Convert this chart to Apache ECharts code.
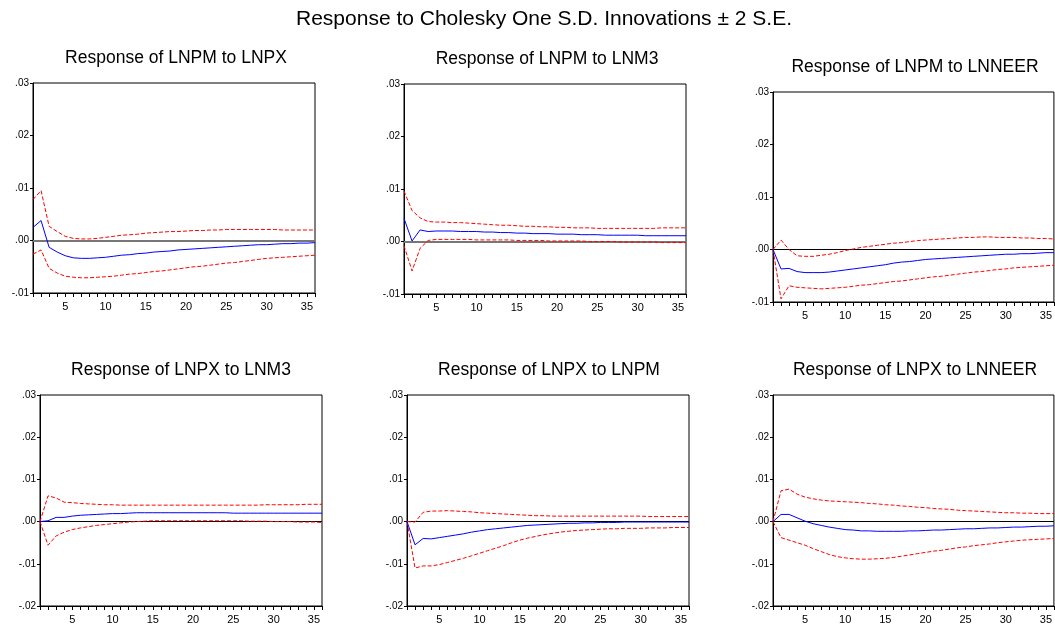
<!DOCTYPE html>
<html>
<head>
<meta charset="utf-8">
<script src="https://cdn.jsdelivr.net/npm/echarts@6/dist/echarts.min.js"></script>
<style>
html,body{margin:0;padding:0;background:#fff;}
#chart{width:1055px;height:625px;}
</style>
</head>
<body>
<div id="chart"></div>
<script>
const mainTitle = 'Response to Cholesky One S.D. Innovations \u00b1 2 S.E.';
const periods = [1,2,3,4,5,6,7,8,9,10,11,12,13,14,15,16,17,18,19,20,21,22,23,24,25,26,27,28,29,30,31,32,33,34,35,36];
const panelTitles = ['Response of LNPM to LNPX','Response of LNPM to LNM3','Response of LNPM to LNNEER','Response of LNPX to LNM3','Response of LNPX to LNPM','Response of LNPX to LNNEER'];
const yTopRow = [-0.01, 0.03];
const yBottomRow = [-0.02, 0.03];

// Panel 1: LNPM to LNPX
const p1Resp = [0.0025,0.0038,-0.0013,-0.0022,-0.0029,-0.0033,-0.0034,-0.0034,-0.0033,-0.0032,-0.0030,-0.0028,-0.0027,-0.0025,-0.0024,-0.0022,-0.0021,-0.0020,-0.0018,-0.0017,-0.0016,-0.0015,-0.0014,-0.0013,-0.0012,-0.0011,-0.0010,-0.0009,-0.0008,-0.0008,-0.0007,-0.0006,-0.0006,-0.0005,-0.0005,-0.0004];
const p1Up = [0.0078,0.0095,0.0027,0.0017,0.0008,0.0004,0.0003,0.0003,0.0004,0.0006,0.0008,0.0010,0.0011,0.0012,0.0014,0.0015,0.0016,0.0017,0.0017,0.0018,0.0019,0.0019,0.0020,0.0020,0.0021,0.0021,0.0021,0.0021,0.0021,0.0021,0.0021,0.0020,0.0020,0.0020,0.0020,0.0020];
const p1Lo = [-0.0026,-0.0018,-0.0053,-0.0062,-0.0068,-0.0070,-0.0071,-0.0071,-0.0070,-0.0069,-0.0068,-0.0066,-0.0064,-0.0063,-0.0061,-0.0059,-0.0058,-0.0056,-0.0054,-0.0052,-0.0050,-0.0049,-0.0047,-0.0045,-0.0043,-0.0042,-0.0040,-0.0038,-0.0036,-0.0034,-0.0033,-0.0032,-0.0031,-0.0030,-0.0029,-0.0028];

// Panel 2: LNPM to LNM3
const p2Resp = [0.0044,0.0001,0.0022,0.0019,0.0020,0.0020,0.0020,0.0019,0.0019,0.0019,0.0018,0.0018,0.0017,0.0017,0.0016,0.0016,0.0015,0.0015,0.0015,0.0014,0.0014,0.0014,0.0013,0.0013,0.0013,0.0012,0.0012,0.0012,0.0012,0.0012,0.0011,0.0011,0.0011,0.0011,0.0011,0.0011];
const p2Up = [0.0096,0.0059,0.0045,0.0038,0.0037,0.0037,0.0036,0.0036,0.0035,0.0034,0.0033,0.0032,0.0031,0.0031,0.0030,0.0029,0.0029,0.0028,0.0028,0.0027,0.0027,0.0026,0.0026,0.0026,0.0025,0.0025,0.0025,0.0025,0.0025,0.0025,0.0025,0.0025,0.0026,0.0026,0.0026,0.0026];
const p2Lo = [-0.0008,-0.0056,-0.0013,0.0002,0.0004,0.0004,0.0004,0.0004,0.0004,0.0003,0.0003,0.0003,0.0003,0.0003,0.0002,0.0002,0.0002,0.0002,0.0001,0.0001,0.0001,0.0001,0.0001,0.0000,0.0000,0.0000,0.0000,-0.0001,-0.0001,-0.0001,-0.0001,-0.0001,-0.0002,-0.0002,-0.0002,-0.0002];

// Panel 3: LNPM to LNNEER
const p3Resp = [0,-0.0037,-0.0036,-0.0042,-0.0044,-0.0044,-0.0044,-0.0043,-0.0041,-0.0039,-0.0037,-0.0035,-0.0033,-0.0031,-0.0029,-0.0026,-0.0024,-0.0023,-0.0021,-0.0019,-0.0018,-0.0017,-0.0016,-0.0015,-0.0014,-0.0013,-0.0012,-0.0011,-0.0010,-0.0009,-0.0009,-0.0008,-0.0008,-0.0007,-0.0006,-0.0006];
const p3Up = [0,0.0018,0.0000,-0.0012,-0.0013,-0.0013,-0.0011,-0.0009,-0.0006,-0.0002,0.0001,0.0004,0.0006,0.0008,0.0010,0.0012,0.0013,0.0015,0.0017,0.0018,0.0019,0.0020,0.0021,0.0022,0.0023,0.0023,0.0024,0.0024,0.0023,0.0023,0.0023,0.0022,0.0022,0.0021,0.0021,0.0020];
const p3Lo = [0,-0.0094,-0.0069,-0.0072,-0.0073,-0.0074,-0.0075,-0.0074,-0.0073,-0.0072,-0.0070,-0.0068,-0.0067,-0.0065,-0.0063,-0.0061,-0.0060,-0.0058,-0.0056,-0.0054,-0.0052,-0.0051,-0.0049,-0.0047,-0.0045,-0.0043,-0.0042,-0.0040,-0.0038,-0.0037,-0.0035,-0.0034,-0.0033,-0.0032,-0.0031,-0.0030];

// Panel 4: LNPX to LNM3
const p4Resp = [0,0.0002,0.0010,0.0010,0.0013,0.0015,0.0016,0.0017,0.0018,0.0019,0.0019,0.0020,0.0021,0.0021,0.0021,0.0021,0.0021,0.0021,0.0021,0.0021,0.0021,0.0021,0.0021,0.0021,0.0020,0.0020,0.0020,0.0020,0.0020,0.0020,0.0020,0.0020,0.0020,0.0020,0.0020,0.0020];
const p4Up = [0,0.0061,0.0056,0.0046,0.0045,0.0043,0.0042,0.0041,0.0040,0.0040,0.0039,0.0039,0.0039,0.0039,0.0039,0.0039,0.0039,0.0039,0.0039,0.0039,0.0039,0.0039,0.0039,0.0039,0.0039,0.0039,0.0039,0.0039,0.0040,0.0040,0.0040,0.0040,0.0040,0.0041,0.0041,0.0041];
const p4Lo = [0,-0.0056,-0.0034,-0.0025,-0.0019,-0.0015,-0.0012,-0.0009,-0.0007,-0.0005,-0.0003,-0.0001,0.0000,0.0001,0.0002,0.0002,0.0002,0.0002,0.0002,0.0002,0.0002,0.0002,0.0002,0.0002,0.0002,0.0002,0.0001,0.0001,0.0001,0.0000,0.0000,0.0000,-0.0001,-0.0001,-0.0001,-0.0002];

// Panel 5: LNPX to LNPM
const p5Resp = [0,-0.0055,-0.0040,-0.0041,-0.0038,-0.0035,-0.0032,-0.0029,-0.0025,-0.0022,-0.0019,-0.0017,-0.0015,-0.0013,-0.0011,-0.0009,-0.0008,-0.0007,-0.0006,-0.0005,-0.0004,-0.0004,-0.0003,-0.0003,-0.0002,-0.0002,-0.0002,-0.0001,-0.0001,-0.0001,-0.0001,-0.0001,-0.0001,-0.0001,-0.0001,-0.0001];
const p5Up = [0,-0.0001,0.0022,0.0025,0.0025,0.0026,0.0025,0.0024,0.0023,0.0021,0.0020,0.0019,0.0018,0.0017,0.0016,0.0015,0.0014,0.0014,0.0013,0.0013,0.0013,0.0013,0.0013,0.0013,0.0013,0.0013,0.0013,0.0013,0.0013,0.0013,0.0012,0.0012,0.0012,0.0012,0.0012,0.0012];
const p5Lo = [0,-0.0110,-0.0105,-0.0105,-0.0102,-0.0097,-0.0092,-0.0087,-0.0081,-0.0075,-0.0069,-0.0063,-0.0057,-0.0050,-0.0044,-0.0039,-0.0035,-0.0031,-0.0028,-0.0025,-0.0023,-0.0021,-0.0020,-0.0019,-0.0018,-0.0017,-0.0017,-0.0016,-0.0016,-0.0016,-0.0015,-0.0015,-0.0015,-0.0014,-0.0014,-0.0014];

// Panel 6: LNPX to LNNEER
const p6Resp = [0,0.0017,0.0017,0.0009,0.0001,-0.0005,-0.0009,-0.0013,-0.0016,-0.0019,-0.0020,-0.0022,-0.0022,-0.0023,-0.0023,-0.0023,-0.0023,-0.0022,-0.0022,-0.0021,-0.0020,-0.0020,-0.0019,-0.0018,-0.0017,-0.0017,-0.0016,-0.0015,-0.0015,-0.0014,-0.0013,-0.0013,-0.0012,-0.0011,-0.0011,-0.0010];
const p6Up = [0,0.0073,0.0077,0.0065,0.0058,0.0054,0.0051,0.0049,0.0048,0.0047,0.0046,0.0045,0.0043,0.0042,0.0040,0.0039,0.0037,0.0036,0.0034,0.0033,0.0031,0.0030,0.0029,0.0027,0.0026,0.0025,0.0024,0.0023,0.0022,0.0021,0.0021,0.0020,0.0020,0.0019,0.0019,0.0019];
const p6Lo = [0,-0.0038,-0.0044,-0.0050,-0.0056,-0.0064,-0.0071,-0.0078,-0.0083,-0.0086,-0.0088,-0.0089,-0.0089,-0.0088,-0.0087,-0.0085,-0.0082,-0.0079,-0.0076,-0.0073,-0.0070,-0.0068,-0.0065,-0.0062,-0.0060,-0.0057,-0.0055,-0.0053,-0.0050,-0.0048,-0.0046,-0.0044,-0.0043,-0.0042,-0.0041,-0.0040];

const panels = [
  {resp:p1Resp, up:p1Up, lo:p1Lo, y:yTopRow, zero:'#777', zeroW:2},
  {resp:p2Resp, up:p2Up, lo:p2Lo, y:yTopRow, zero:'#777', zeroW:2},
  {resp:p3Resp, up:p3Up, lo:p3Lo, y:yTopRow, zero:'#000', zeroW:1},
  {resp:p4Resp, up:p4Up, lo:p4Lo, y:yBottomRow, zero:'#000', zeroW:1},
  {resp:p5Resp, up:p5Up, lo:p5Lo, y:yBottomRow, zero:'#000', zeroW:1},
  {resp:p6Resp, up:p6Up, lo:p6Lo, y:yBottomRow, zero:'#000', zeroW:1}
];

// layout (pixels)
const gridBoxes = [
  {left:33, top:83, width:282, height:210},
  {left:404, top:84, width:282, height:210},
  {left:773, top:92, width:282, height:210},
  {left:40, top:395, width:282, height:211},
  {left:407, top:395, width:282, height:211},
  {left:773, top:395, width:282, height:211}
];
const titlePos = [
  {x:171, y:57}, {x:542, y:58}, {x:910, y:66},
  {x:176, y:369}, {x:544, y:369}, {x:910, y:369}
];

const FONT = "'Liberation Sans', Arial, sans-serif";
function fmtY(v){
  const s = Math.abs(v).toFixed(2).replace(/^0/, '');
  return (v < -1e-9 ? '-' : '') + s;
}

const option = {
  backgroundColor:'#fff',
  animation:false,
  title:[{text:mainTitle, left:539, top:4, textAlign:'center',
    textStyle:{fontFamily:FONT, fontSize:21, fontWeight:'normal', color:'#000'}}],
  grid:[], xAxis:[], yAxis:[], series:[]
};

panels.forEach((p, i) => {
  const g = gridBoxes[i];
  option.title.push({text:panelTitles[i], left:titlePos[i].x, top:titlePos[i].y - 13, textAlign:'center',
    textStyle:{fontFamily:FONT, fontSize:17.5, fontWeight:'normal', color:'#000'}});
  option.grid.push({left:g.left, top:g.top, width:g.width, height:g.height, show:true,
    borderColor:'#000', borderWidth:1, backgroundColor:'transparent', containLabel:false});
  option.xAxis.push({type:'category', gridIndex:i, data:periods, boundaryGap:false,
    axisLine:{onZero:false, lineStyle:{color:'#000', width:1}},
    axisTick:{show:true, interval:0, length:4, inside:false, lineStyle:{color:'#000'}},
    axisLabel:{interval:function(idx, val){ return Number(val) % 5 === 0; }, margin:8,
      fontFamily:FONT, fontSize:11, color:'#000'},
    splitLine:{show:false}});
  option.yAxis.push({type:'value', gridIndex:i, min:p.y[0], max:p.y[1], interval:0.01,
    axisLine:{show:true, onZero:false, lineStyle:{color:'#000', width:1}},
    axisTick:{show:true, length:3, lineStyle:{color:'#000'}},
    axisLabel:{formatter:fmtY, margin:4, fontFamily:FONT, fontSize:10, color:'#000'},
    splitLine:{show:false}});
  option.series.push({type:'line', xAxisIndex:i, yAxisIndex:i, data:p.resp, symbol:'none',
    lineStyle:{color:'#0000ff', width:1}, z:3,
    markLine:{silent:true, symbol:'none', label:{show:false},
      lineStyle:{color:p.zero, width:p.zeroW, type:'solid'}, data:[{yAxis:0}], z:1}});
  option.series.push({type:'line', xAxisIndex:i, yAxisIndex:i, data:p.up, symbol:'none',
    lineStyle:{color:'#ff0000', width:1, type:[4,2]}, z:2});
  option.series.push({type:'line', xAxisIndex:i, yAxisIndex:i, data:p.lo, symbol:'none',
    lineStyle:{color:'#ff0000', width:1, type:[4,2]}, z:2});
});

const chart = echarts.init(document.getElementById('chart'), null, {renderer:'canvas'});
chart.setOption(option);
</script>
</body>
</html>
